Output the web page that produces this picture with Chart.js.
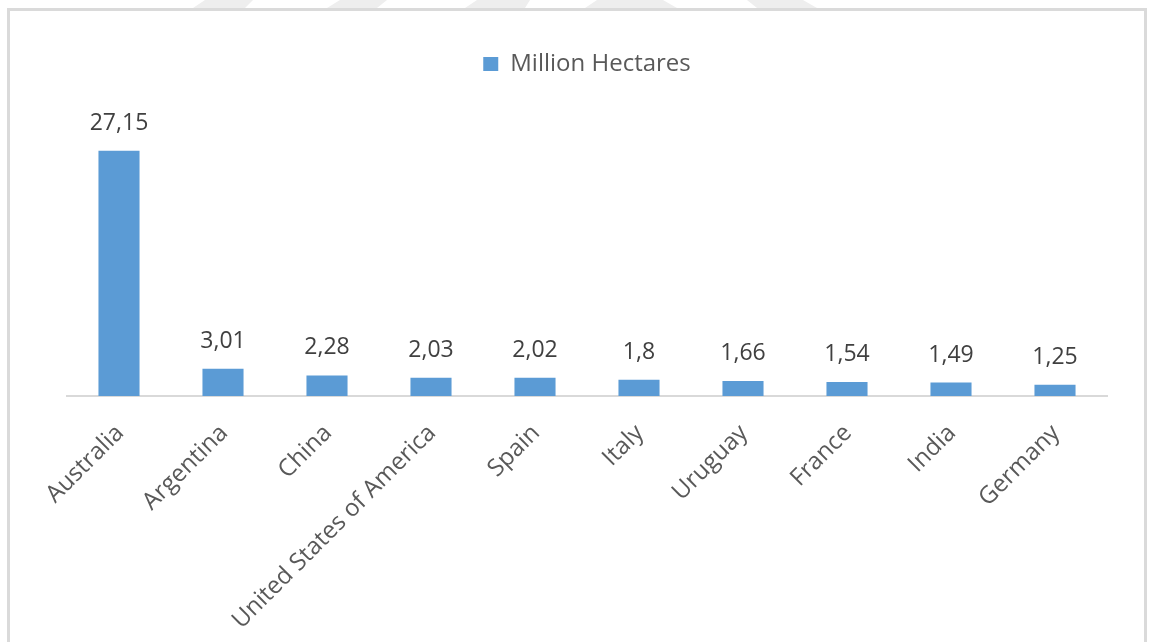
<!DOCTYPE html>
<html>
<head>
<meta charset="utf-8">
<script src="https://cdn.jsdelivr.net/npm/chart.js@4.4.1/dist/chart.umd.min.js"></script>
<style>
  html, body { margin: 0; padding: 0; background: #ffffff; }
  #wrap { position: relative; width: 1149px; height: 642px; overflow: hidden; background: #ffffff; }
  .wm { position: absolute; top: 0; height: 8px; background: #eeeeee; }
  #frame { position: absolute; left: 7px; top: 8px; width: 1140px; height: 700px; box-sizing: border-box; border: 3px solid #dadada; }
  #c { position: absolute; left: 0; top: 0; }
</style>
</head>
<body>
<div id="wrap">
  <div class="wm" style="left:193px;width:60px;clip-path:polygon(12px 0,60px 0,52px 8px,0 8px);"></div>
  <div class="wm" style="left:327px;width:60px;clip-path:polygon(13px 0,60px 0,50px 8px,0 8px);"></div>
  <div class="wm" style="left:465px;width:65px;clip-path:polygon(12px 0,65px 0,60px 8px,0 8px);"></div>
  <div class="wm" style="left:585px;width:92px;clip-path:polygon(12px 0,78px 0,92px 8px,0 8px);"></div>
  <div class="wm" style="left:747px;width:70px;clip-path:polygon(0 0,56px 0,70px 8px,10px 8px);"></div>
  <div id="frame"></div>
  <canvas id="c" width="1149" height="642"></canvas>
</div>
<script>
const categories = ['Australia', 'Argentina', 'China', 'United States of America', 'Spain', 'Italy', 'Uruguay', 'France', 'India', 'Germany'];
const hectares = [27.15, 3.01, 2.28, 2.03, 2.02, 1.8, 1.66, 1.54, 1.49, 1.25];
const seriesName = 'Million Hectares';
const yAxisMax = 30;

const FONT = "'Open Sans', 'Noto Sans', sans-serif";

const dataLabels = {
  id: 'dataLabels',
  afterDatasetsDraw(chart) {
    const ctx = chart.ctx;
    const meta = chart.getDatasetMeta(0);
    ctx.save();
    ctx.font = "23px " + FONT;
    ctx.fillStyle = '#404040';
    ctx.textAlign = 'center';
    ctx.textBaseline = 'alphabetic';
    meta.data.forEach((bar, i) => {
      const v = chart.data.datasets[0].data[i];
      ctx.fillText(String(v).replace('.', ','), bar.x, bar.y - 21);
    });
    ctx.restore();
  }
};

const legendSpacer = {
  id: 'legendSpacer',
  beforeLayout(chart) {
    const lg = chart.legend;
    if (lg && !lg._spacerPatched) {
      const orig = lg.fit;
      lg.fit = function () { orig.call(this); this.height += 39; };
      lg._spacerPatched = true;
    }
  }
};

new Chart(document.getElementById('c'), {
  type: 'bar',
  data: {
    labels: categories,
    datasets: [{
      label: seriesName,
      data: hectares,
      backgroundColor: '#5b9bd5',
      borderWidth: 0,
      categoryPercentage: 0.395,
      barPercentage: 1
    }]
  },
  options: {
    responsive: false,
    animation: false,
    devicePixelRatio: 1,
    layout: { padding: { left: 67, right: 42, top: 42, bottom: 0 } },
    plugins: {
      legend: {
        display: true,
        position: 'top',
        labels: {
          boxWidth: 15,
          boxHeight: 14,
          color: '#595959',
          font: { family: FONT, size: 24 },
          padding: 10
        }
      },
      tooltip: { enabled: false }
    },
    scales: {
      x: {
        grid: { display: false },
        border: { display: true, color: '#d9d9d9', width: 2 },
        ticks: {
          autoSkip: false,
          minRotation: 45,
          maxRotation: 45,
          color: '#595959',
          font: { family: FONT, size: 24 },
          labelOffset: 1,
          padding: 15
        },
        afterFit(scale) {
          scale.height = 246;
          scale.paddingLeft = 0;
          scale.paddingRight = 0;
        }
      },
      y: {
        display: false,
        min: 0,
        max: yAxisMax
      }
    }
  },
  plugins: [dataLabels, legendSpacer]
});
</script>
</body>
</html>
